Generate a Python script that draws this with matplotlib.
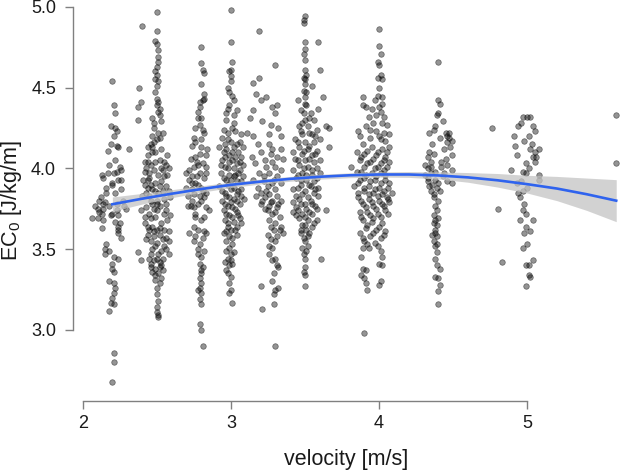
import numpy as np
import matplotlib
matplotlib.use("Agg")
import matplotlib.pyplot as plt

plt.rcParams['font.family'] = ['Liberation Sans', 'DejaVu Sans']
plt.rcParams['mathtext.fontset'] = 'custom'
plt.rcParams['mathtext.rm'] = 'Liberation Sans'

# scatter data, (velocity, EC0) per speed group
v22 = [(2.20,4.54),(2.21,4.39),(2.22,4.34),(2.19,4.26),(2.22,4.25),(2.23,4.23),(2.21,4.20),(2.17,4.11),
       (2.23,4.14),(2.24,4.13),(2.19,4.15),(2.31,4.12),(2.22,4.05),(2.25,4.01),(2.23,3.98),(2.21,3.97),
       (2.17,3.97),(2.13,3.96),(2.14,3.94),(2.26,3.93),(2.20,3.91),(2.20,3.90),(2.26,3.87),(2.16,3.85),
       (2.22,3.85),(2.11,3.80),(2.15,3.79),(2.14,3.78),(2.10,3.75),(2.14,3.75),(2.18,3.77),(2.13,3.72),
       (2.14,3.68),(2.10,3.69),(2.06,3.69),(2.20,3.72),(2.23,3.74),(2.24,3.71),(2.22,3.67),(2.24,3.64),
       (2.24,3.60),(2.26,3.57),(2.24,3.62),(2.29,3.75),(2.28,3.77),(2.16,3.53),(2.15,3.50),(2.15,3.47),
       (2.18,3.49),(2.20,3.41),(2.21,3.45),(2.24,3.44),(2.20,3.38),(2.21,3.36),(2.18,3.30),(2.21,3.29),
       (2.22,3.26),(2.21,3.23),(2.20,3.20),(2.19,3.17),(2.21,3.16),(2.18,3.12),(2.21,2.86),(2.21,2.80),
       (2.20,2.68),(2.12,3.82),(2.16,3.88),(2.24,3.93),(2.27,3.80),(2.19,3.71),(2.23,3.78),(2.11,3.73),
       (2.26,3.99),(2.18,4.02),(2.25,3.66),(2.08,3.77),(2.13,3.63)]
v25 = [(2.40,4.88),(2.38,4.50),(2.39,4.41),(2.37,4.38),(2.37,4.30),(2.37,3.48),(2.39,3.43),
       (2.50,4.97),(2.50,4.85),(2.49,4.79),(2.50,4.77),(2.51,4.73),(2.51,4.69),(2.51,4.66),(2.50,4.63),
       (2.49,4.60),(2.50,4.58),(2.49,4.55),(2.51,4.54),(2.50,4.51),(2.49,4.47),(2.50,4.43),(2.51,4.41),
       (2.50,4.39),(2.52,4.37),(2.51,4.35),(2.47,4.31),(2.52,4.33),(2.48,4.28),(2.53,4.29),(2.54,4.22),
       (2.51,4.22),(2.47,4.20),(2.50,4.18),(2.46,4.15),(2.44,4.13),(2.47,4.13),(2.48,4.16),
       (2.42,4.04),(2.44,4.04),(2.46,4.02),(2.49,4.04),(2.52,4.05),(2.55,4.04),(2.56,4.02),(2.58,4.00),
       (2.54,3.99),(2.42,3.98),(2.45,3.97),(2.51,3.96),(2.55,3.95),(2.44,3.93),(2.49,3.91),(2.46,3.90),
       (2.42,3.90),(2.52,3.89),(2.56,3.89),(2.54,3.86),(2.51,3.85),(2.43,3.85),(2.47,3.87),(2.40,3.83),
       (2.46,3.80),(2.50,3.80),(2.59,3.82),(2.56,3.78),(2.52,3.77),(2.43,3.76),(2.48,3.75),(2.45,3.72),
       (2.50,3.74),(2.55,3.72),(2.59,3.71),(2.39,3.74),
       (2.46,3.69),(2.42,3.66),(2.47,3.64),(2.45,3.62),(2.50,3.62),(2.55,3.62),(2.58,3.61),(2.44,3.59),
       (2.48,3.58),(2.52,3.59),(2.56,3.57),(2.46,3.55),(2.50,3.54),(2.58,3.55),(2.55,3.52),(2.47,3.50),
       (2.53,3.49),(2.58,3.47),(2.45,3.44),(2.50,3.44),(2.54,3.44),(2.46,3.41),(2.52,3.42),(2.46,3.39),
       (2.49,3.38),(2.52,3.39),(2.47,3.36),(2.51,3.35),(2.54,3.37),(2.53,3.32),(2.49,3.31),(2.52,3.29),
       (2.50,3.22),(2.50,3.14),(2.50,3.11),(2.51,3.09),(2.51,3.08),
       (2.44,4.08),(2.47,4.10),(2.53,4.12),(2.57,4.08),(2.43,4.00),(2.48,3.99),(2.53,4.00),(2.57,3.96),
       (2.44,3.88),(2.49,3.86),(2.53,3.92),(2.58,3.86),(2.45,3.83),(2.50,3.78),(2.55,3.81),(2.42,3.70),
       (2.49,3.70),(2.53,3.66),(2.57,3.68),(2.44,3.64),(2.48,3.61),(2.52,3.63),(2.43,3.56),(2.49,3.52),
       (2.54,3.56),(2.46,3.47),(2.51,3.47),(2.56,3.50),(2.48,3.43),(2.53,3.40),(2.49,3.34),(2.50,3.26),
       (2.51,3.18),(2.48,4.25),(2.52,4.19),(2.49,4.10),(2.45,3.94),(2.41,3.93),(2.56,3.74),(2.47,3.78)]
v28 = [(2.80,4.75),(2.80,4.65),(2.81,4.61),(2.82,4.59),(2.80,4.52),(2.82,4.46),(2.81,4.42),(2.82,4.43),
       (2.79,4.41),(2.78,4.35),(2.78,4.31),(2.80,4.31),(2.79,4.27),(2.76,4.25),(2.81,4.24),(2.82,4.22),
       (2.75,4.19),(2.76,4.16),(2.74,4.14),(2.80,4.13),(2.84,4.12),(2.83,4.08),(2.79,4.09),(2.76,4.07),
       (2.73,4.06),(2.81,4.03),(2.78,4.02),(2.75,4.01),(2.83,4.01),(2.72,3.99),(2.70,3.97),(2.79,3.97),
       (2.74,3.95),(2.72,3.93),(2.82,3.94),(2.76,3.91),(2.78,3.90),(2.70,3.88),(2.74,3.87),(2.80,3.88),
       (2.83,3.85),(2.71,3.83),(2.75,3.84),(2.79,3.83),(2.71,3.77),(2.80,3.80),(2.83,3.76),(2.75,3.76),
       (2.85,3.74),(2.76,3.72),(2.82,3.70),(2.80,3.68),(2.75,3.64),(2.78,3.62),(2.72,3.60),(2.82,3.61),
       (2.83,3.60),(2.76,3.58),(2.75,3.55),(2.79,3.53),(2.78,3.50),(2.82,3.49),(2.80,3.45),(2.79,3.41),
       (2.81,3.39),(2.80,3.37),(2.79,3.32),(2.80,3.29),(2.79,3.26),(2.78,3.25),(2.80,3.23),(2.79,3.19),
       (2.80,3.16),(2.79,3.04),(2.80,3.00),(2.81,2.90),(2.73,3.77),
       (2.77,3.95),(2.81,3.86),(2.74,3.80),(2.78,3.78),(2.82,3.82),(2.77,4.04),(2.80,4.18),(2.79,4.38),
       (2.76,3.70),(2.81,3.57),(2.78,3.47),(2.80,3.35),(2.74,3.91),(2.83,3.97)]
v30 = [(3.00,4.98),(3.00,4.78),(3.01,4.66),(3.00,4.61),(2.99,4.60),(3.00,4.57),(2.98,4.50),(2.99,4.47),
       (3.01,4.45),(3.02,4.42),(2.98,4.37),(2.97,4.34),(3.02,4.33),(3.04,4.36),(2.97,4.30),(3.02,4.28),
       (2.95,4.24),(2.98,4.22),(3.03,4.23),(3.07,4.21),(2.94,4.19),(2.98,4.18),(3.00,4.16),(3.06,4.16),
       (2.96,4.15),(2.92,4.13),(3.02,4.13),(3.04,4.15),(3.08,4.13),(2.95,4.10),(2.99,4.08),(3.03,4.07),
       (3.07,4.07),(2.94,4.05),(2.99,4.04),(3.04,4.03),(3.08,4.02),(2.96,4.01),(3.02,4.00),(3.06,3.99),
       (2.93,3.97),(2.99,3.96),(3.03,3.96),(3.08,3.95),(2.95,3.94),(3.00,3.93),(3.04,3.92),(2.98,3.90),
       (2.92,3.89),(3.02,3.88),(3.07,3.87),(2.96,3.85),(3.04,3.84),(2.99,3.82),(2.94,3.80),(3.04,3.80),
       (3.09,3.81),(2.98,3.77),(3.06,3.78),(3.01,3.76),(2.95,3.74),(3.04,3.73),(2.99,3.71),(2.96,3.68),
       (3.06,3.69),(3.02,3.67),(3.07,3.66),(2.98,3.64),(3.04,3.64),(3.00,3.62),(2.95,3.60),(2.99,3.58),
       (3.04,3.59),(2.97,3.55),(3.01,3.53),(2.97,3.49),(3.00,3.47),(2.98,3.44),(2.96,3.42),(2.99,3.40),
       (3.01,3.41),(2.97,3.37),(3.00,3.33),(2.99,3.29),(3.00,3.25),(2.99,3.23),(3.01,3.17),
       (2.97,4.12),(3.01,4.10),(3.05,4.10),(2.96,4.07),(3.01,4.05),(3.06,4.04),(2.93,4.02),(2.98,4.00),
       (3.05,3.97),(2.97,3.93),(3.02,3.95),(3.07,3.92),(2.94,3.86),(3.00,3.87),(3.05,3.86),(2.97,3.83),
       (3.02,3.81),(3.07,3.83),(2.96,3.78),(3.00,3.79),(3.03,3.75),(2.97,3.72),(3.01,3.70),(3.05,3.71),
       (2.98,3.66),(3.03,3.62),(2.97,3.61),(3.01,3.57),(2.99,3.51),(3.02,3.48),(2.98,3.35),(3.00,3.43),
       (3.01,4.25),(2.99,4.39),(3.00,4.54)]
v33 = [(3.19,4.85),(3.15,4.53),(3.19,4.56),(3.17,4.46),(3.20,4.42),(3.24,4.44),(3.30,4.64),(3.31,4.39),
       (3.28,4.38),(3.30,4.34),(3.15,4.36),(3.13,4.31),(3.21,4.29),(3.27,4.27),(3.32,4.25),(3.26,4.21),
       (3.34,4.20),(3.15,4.20),(3.11,4.22),(3.18,4.15),(3.26,4.15),(3.28,4.12),(3.34,4.12),(3.14,4.07),
       (3.20,4.10),(3.27,4.09),(3.31,4.07),(3.35,4.06),(3.16,4.03),(3.24,4.01),(3.30,4.01),(3.34,3.99),
       (3.19,3.97),(3.26,3.97),(3.31,3.95),(3.15,3.93),(3.22,3.92),(3.28,3.91),(3.34,3.91),(3.18,3.88),
       (3.24,3.86),(3.30,3.87),(3.20,3.85),(3.26,3.84),(3.31,3.83),(3.17,3.83),(3.23,3.82),(3.28,3.80),
       (3.34,3.80),(3.20,3.78),(3.26,3.77),(3.31,3.76),(3.25,3.74),(3.28,3.72),(3.33,3.70),(3.26,3.68),
       (3.30,3.66),(3.34,3.64),(3.29,3.62),(3.33,3.62),(3.25,3.59),(3.31,3.58),(3.35,3.60),(3.27,3.56),
       (3.26,3.52),(3.28,3.51),(3.30,3.44),(3.28,3.43),(3.31,3.40),(3.32,3.39),(3.28,3.30),(3.30,3.25),
       (3.29,3.22),(3.32,3.26),(3.29,3.16),(3.20,3.27),(3.21,3.13),(3.30,2.90),
       (3.23,4.05),(3.28,4.04),(3.22,3.95),(3.29,3.93),(3.25,3.89),(3.21,3.80),(3.27,3.79),(3.32,3.78),
       (3.23,3.75),(3.30,3.73),(3.27,3.64),(3.30,3.55),(3.26,3.47),(3.29,3.35)]
v35 = [(3.50,4.94),(3.49,4.92),(3.49,4.90),(3.50,4.78),(3.50,4.74),(3.49,4.71),(3.50,4.67),(3.50,4.61),
       (3.49,4.56),(3.50,4.55),(3.49,4.48),(3.51,4.47),(3.50,4.44),(3.55,4.51),(3.59,4.78),(3.60,4.61),
       (3.62,4.44),(3.59,4.37),(3.64,4.26),(3.66,4.25),(3.66,4.13),(3.64,3.74),(3.61,3.44),
       (3.45,4.42),(3.47,4.36),(3.51,4.39),(3.54,4.34),(3.49,4.34),(3.56,4.30),(3.50,4.30),(3.46,4.26),
       (3.52,4.26),(3.58,4.24),(3.55,4.21),(3.48,4.21),(3.43,4.18),(3.50,4.16),(3.56,4.16),(3.60,4.18),
       (3.46,4.13),(3.52,4.12),(3.58,4.11),(3.42,4.10),(3.48,4.09),(3.55,4.08),(3.43,4.06),(3.50,4.05),
       (3.56,4.04),(3.60,4.05),(3.46,4.02),(3.52,4.01),(3.58,4.00),(3.42,3.99),(3.48,3.97),(3.55,3.96),
       (3.60,3.97),(3.44,3.94),(3.51,3.93),(3.56,3.92),(3.47,3.90),(3.54,3.89),(3.59,3.88),(3.42,3.87),
       (3.50,3.86),(3.56,3.85),(3.44,3.83),(3.52,3.82),(3.59,3.83),(3.42,3.79),(3.47,3.78),(3.55,3.78),
       (3.44,3.76),(3.51,3.75),(3.58,3.75),(3.42,3.73),(3.48,3.72),(3.55,3.72),(3.46,3.69),(3.52,3.68),
       (3.58,3.68),(3.48,3.65),(3.55,3.64),(3.51,3.62),(3.47,3.60),(3.52,3.58),(3.50,3.55),(3.48,3.51),
       (3.52,3.52),(3.49,3.47),(3.50,3.44),(3.50,3.39),(3.49,3.36),(3.50,3.34),(3.50,3.27),
       (3.48,4.28),(3.53,4.31),(3.47,4.23),(3.53,4.22),(3.57,4.20),(3.45,4.16),(3.53,4.14),(3.49,4.11),
       (3.57,4.09),(3.45,4.05),(3.53,4.06),(3.49,4.00),(3.55,3.99),(3.45,3.96),(3.51,3.96),(3.58,3.94),
       (3.47,3.93),(3.53,3.90),(3.45,3.88),(3.57,3.87),(3.48,3.84),(3.54,3.80),(3.46,3.81),(3.50,3.78),
       (3.57,3.77),(3.45,3.74),(3.53,3.73),(3.50,3.70),(3.44,3.71),(3.56,3.66),(3.50,3.65),(3.47,3.62),
       (3.53,3.60),(3.49,3.57),(3.51,3.49),(3.50,4.40),(3.51,4.58),(3.50,4.52)]
v40 = [(4.00,4.86),(4.00,4.76),(4.01,4.71),(3.99,4.66),(4.00,4.64),(4.01,4.58),(3.99,4.56),(4.02,4.55),
       (4.00,4.50),(3.99,4.45),(4.02,4.44),(4.02,4.40),(4.00,4.38),(3.89,4.44),(3.89,4.39),(3.91,4.38),
       (3.95,4.37),(3.98,4.33),(3.93,4.32),(4.03,4.32),(4.02,4.28),(4.05,4.27),(3.96,4.28),(3.91,4.26),
       (3.86,4.23),(3.98,4.23),(4.03,4.22),(4.07,4.21),(3.87,4.20),(3.94,4.19),(4.01,4.18),(3.89,4.15),
       (3.95,4.13),(4.02,4.12),(4.07,4.13),(3.85,4.10),(3.90,4.09),(3.98,4.08),(4.04,4.07),(3.87,4.05),
       (3.94,4.04),(4.01,4.03),(4.07,4.04),(3.90,4.01),(3.97,4.00),(4.03,3.99),(3.81,4.01),(3.85,3.98),
       (3.91,3.96),(3.98,3.95),(4.04,3.96),(3.87,3.93),(3.94,3.92),(4.01,3.91),(4.07,3.91),(3.83,3.89),
       (3.90,3.88),(3.97,3.87),(4.03,3.86),(4.09,3.85),(3.86,3.85),(3.93,3.84),(3.99,3.83),(4.05,3.82),
       (3.88,3.80),(3.95,3.79),(4.02,3.78),(4.07,3.79),(3.91,3.76),(3.98,3.75),(4.04,3.74),(3.87,3.73),
       (3.94,3.71),(4.01,3.70),(3.89,3.68),(3.95,3.67),(4.02,3.66),(3.91,3.63),(3.98,3.62),(4.04,3.61),
       (3.87,3.60),(3.94,3.58),(4.01,3.57),(3.90,3.55),(3.97,3.54),(3.89,3.51),(3.93,3.51),(4.01,3.49),
       (4.02,3.45),(4.00,3.41),(4.02,3.40),(3.89,3.38),(3.91,3.37),(3.88,3.34),(3.90,3.32),(3.91,3.29),
       (3.92,3.25),(4.01,3.30),(4.00,3.28),(3.90,2.98),
       (3.92,4.11),(3.99,4.10),(4.05,4.10),(3.88,4.07),(3.96,4.06),(4.03,4.05),(3.92,4.03),(3.99,4.01),
       (4.05,4.01),(3.88,3.98),(3.95,3.97),(4.01,3.97),(3.90,3.94),(3.97,3.93),(4.04,3.93),(3.86,3.91),
       (3.93,3.89),(4.00,3.88),(4.06,3.88),(3.90,3.86),(3.96,3.85),(4.02,3.84),(3.86,3.82),(3.93,3.81),
       (4.00,3.80),(4.06,3.81),(3.89,3.78),(3.96,3.77),(4.03,3.77),(3.92,3.73),(3.99,3.72),(4.06,3.72),
       (3.88,3.70),(3.96,3.69),(3.92,3.65),(4.00,3.64),(3.89,3.57),(3.96,3.60),(4.03,3.59),(3.92,3.53),
       (3.99,3.52),(3.88,3.45),(4.00,4.20),(4.04,4.17),(3.94,4.24),(4.01,4.35),(3.97,4.42)]
v44 = [(4.40,4.66),(4.40,4.42),(4.41,4.40),(4.40,4.34),(4.39,4.33),(4.43,4.29),(4.38,4.26),(4.37,4.24),
       (4.34,4.22),(4.45,4.22),(4.47,4.22),(4.46,4.20),(4.41,4.19),(4.36,4.15),(4.46,4.16),(4.49,4.17),
       (4.48,4.13),(4.34,4.10),(4.37,4.09),(4.33,4.07),(4.49,4.08),(4.45,4.06),(4.31,4.02),(4.35,4.01),
       (4.33,4.00),(4.42,4.01),(4.46,4.02),(4.49,3.99),(4.31,3.96),(4.35,3.97),(4.43,3.95),(4.33,3.92),
       (4.38,3.93),(4.46,3.92),(4.49,3.91),(4.34,3.89),(4.39,3.88),(4.35,3.86),(4.37,3.84),(4.40,3.80),
       (4.38,3.77),(4.37,3.71),(4.38,3.68),(4.37,3.66),(4.39,3.65),(4.38,3.62),(4.38,3.60),(4.39,3.58),
       (4.37,3.55),(4.38,3.52),(4.39,3.53),(4.38,3.44),(4.39,3.40),(4.41,3.38),(4.38,3.33),(4.40,3.32),
       (4.41,3.28),(4.40,3.24),(4.40,3.16),
       (4.35,4.04),(4.42,4.04),(4.38,3.98),(4.44,3.97),(4.33,3.94),(4.40,3.91),(4.36,3.90),(4.41,3.86),
       (4.37,3.82),(4.39,3.74),(4.40,3.69),(4.36,3.59),(4.39,3.48),(4.44,4.12),(4.47,4.19)]
v50 = [(4.76,4.25),(4.80,3.75),(4.83,3.42),(4.89,3.99),(4.91,4.20),(4.92,4.14),(4.93,4.08),(4.94,4.26),
       (4.96,4.28),(4.97,4.32),(5.00,4.32),(5.02,4.32),(5.04,4.26),(5.01,4.20),(5.05,4.23),(5.02,4.12),
       (5.05,4.10),(5.08,4.12),(5.04,4.07),(5.06,4.07),(5.05,4.04),(4.99,4.03),(4.97,3.98),(4.99,3.97),
       (5.08,3.96),(5.08,3.93),(4.97,3.86),(4.94,3.85),(4.95,3.82),(4.93,3.91),(5.01,4.00),(4.97,3.74),
       (4.99,3.72),(5.04,3.68),(4.95,3.68),(4.99,3.64),(4.98,3.60),(5.00,3.53),(4.97,3.51),(5.04,3.43),
       (5.01,3.40),(4.99,3.40),(5.01,3.34),(5.02,3.33),(4.99,3.27),
       (4.98,4.17),(5.03,4.15),(4.96,3.92),(5.00,3.88),(4.98,3.78),(5.02,3.61)]
v56 = [(5.60,4.33),(5.60,4.03)]

# smooth fit with confidence band
fit_x = [2.2, 2.4, 2.6, 2.8, 3.0, 3.2, 3.4, 3.6, 3.8, 4.0, 4.2, 4.4, 4.6, 4.8, 5.0, 5.2, 5.4, 5.6]
fit_y = [3.778, 3.812, 3.843, 3.872, 3.898, 3.918, 3.935, 3.948, 3.957, 3.962, 3.962, 3.956, 3.944,
         3.926, 3.902, 3.875, 3.840, 3.800]
fit_lo = [3.733, 3.779, 3.818, 3.852, 3.881, 3.903, 3.920, 3.933, 3.942, 3.946, 3.944, 3.934, 3.914,
          3.884, 3.847, 3.800, 3.740, 3.670]
fit_hi = [3.823, 3.845, 3.868, 3.892, 3.915, 3.933, 3.950, 3.963, 3.972, 3.978, 3.980, 3.978, 3.974,
          3.968, 3.957, 3.950, 3.940, 3.930]

pts = np.array(v22 + v25 + v28 + v30 + v33 + v35 + v40 + v44 + v50 + v56)

fig = plt.figure(figsize=(6.2, 4.71), dpi=100)
ax = fig.add_axes([0.1173, 0.1493, 0.8827, 0.8507])

ax.scatter(pts[:, 0], pts[:, 1], s=16, facecolor=(0, 0, 0, 0.42), edgecolor=(0, 0, 0, 0.5),
           linewidth=0.5, zorder=2)
ax.fill_between(fit_x, fit_lo, fit_hi, color='#c4c4c4', alpha=0.75, linewidth=0, zorder=3)
ax.plot(fit_x, fit_y, color='#2f63ee', linewidth=1.9, zorder=4)

ax.set_xlim(1.9325, 5.6255)
ax.set_ylim(2.5626, 5.0415)

for side in ['top', 'right']:
    ax.spines[side].set_visible(False)
ax.spines['left'].set_bounds(3.0, 5.0)
ax.spines['bottom'].set_bounds(2, 5)
for side in ['left', 'bottom']:
    ax.spines[side].set_color('#808080')
    ax.spines[side].set_linewidth(1.0)

ax.set_xticks([2, 3, 4, 5])
ax.set_xticklabels(['2', '3', '4', '5'])
ax.set_yticks([3.0, 3.5, 4.0, 4.5, 5.0])
ax.set_yticklabels(['3.0', '3.5', '4.0', '4.5', '5.0'])
ax.tick_params(axis='both', direction='out', length=5.5, width=1.0, color='#808080',
               labelsize=13, labelcolor='#1a1a1a')
ax.tick_params(axis='y', pad=6.5)
ax.tick_params(axis='x', pad=5)

ax.set_xlabel('velocity [m/s]', fontsize=15.5, color='#1a1a1a', labelpad=12)
ax.set_ylabel(r'EC$_\mathrm{0}$ [J/kg/m]', fontsize=15.5, color='#1a1a1a', labelpad=5)

fig.savefig('out.png', dpi=100)
